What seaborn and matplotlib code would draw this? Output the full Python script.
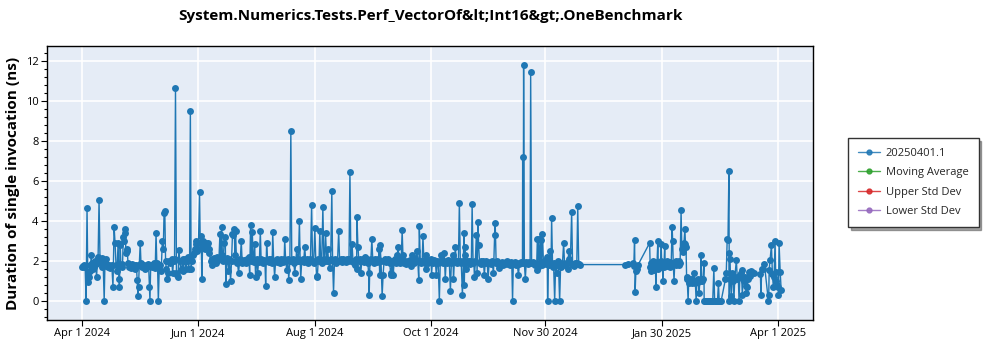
import matplotlib
matplotlib.use("Agg")
import matplotlib.pyplot as plt
from matplotlib.lines import Line2D
from matplotlib.ticker import MultipleLocator
import seaborn as sns
import pandas as pd

title = "System.Numerics.Tests.Perf_VectorOf&lt;Int16&gt;.OneBenchmark"
y_label = "Duration of single invocation (ns)"
series_names = ["20250401.1", "Moving Average", "Upper Std Dev", "Lower Std Dev"]
series_colors = ["#1f77b4", "#2ca02c", "#d62728", "#9467bd"]
base_date = "2024-04-01"
tick_dates = ["2024-04-01", "2024-06-01", "2024-08-01", "2024-10-01",
              "2024-11-30", "2025-01-30", "2025-04-01"]

# (day offset from base_date, duration ns)
seg_apr_may = [
    (0.0, 1.70), (0.4, 1.75), (0.8, 1.70), (1.2, 1.80), (1.6, 1.75), (2.1, 0.00), (2.6, 4.65),
    (3.0, 1.30), (3.3, 0.95), (3.6, 1.20), (4.0, 1.80), (4.4, 1.50), (4.8, 2.30), (5.2, 1.90),
    (5.6, 1.60), (6.0, 1.80), (6.4, 1.70), (6.8, 2.00), (7.2, 1.85), (7.6, 1.20), (8.0, 1.90),
    (8.4, 2.20), (8.9, 5.07), (9.4, 2.10), (9.8, 1.90), (10.2, 1.70), (10.6, 2.15), (11.0, 2.10),
    (11.6, 0.00), (12.0, 1.90), (12.4, 2.10), (12.8, 1.75), (13.2, 1.80), (13.6, 1.70), (14.0, 1.80),
    (14.4, 1.65), (14.8, 1.75), (15.2, 1.70), (15.6, 1.80), (16.2, 0.70), (16.8, 3.70), (17.3, 2.90),
    (17.8, 1.80), (18.3, 1.50), (18.9, 2.90), (19.3, 1.10), (19.6, 0.70), (20.0, 2.80), (20.4, 1.75),
    (20.8, 1.85), (21.2, 1.70), (21.6, 3.20), (21.9, 3.00), (22.3, 3.40), (22.6, 3.60), (23.0, 2.40),
    (23.4, 2.60), (23.7, 2.50), (24.1, 1.90), (24.5, 1.70), (25.0, 1.80), (25.5, 1.65), (26.0, 1.85),
    (26.5, 1.70), (27.0, 1.80), (27.5, 1.75), (28.0, 1.60), (28.5, 1.80), (28.9, 1.05), (29.3, 0.25),
    (29.6, 0.70), (30.0, 1.80), (30.5, 2.90), (30.9, 1.90), (31.4, 1.70), (31.9, 1.75), (32.4, 1.80),
    (32.9, 1.60), (33.4, 1.75), (33.9, 1.70), (34.4, 1.85), (34.9, 1.80), (35.3, 0.70), (35.6, 0.00),
    (36.0, 1.80), (36.5, 1.70), (37.0, 1.75), (37.5, 1.90), (38.0, 1.65), (38.4, 1.80), (38.8, 3.40),
    (39.2, 1.90), (39.6, 1.70), (40.0, 0.00), (40.5, 1.70), (41.0, 1.80), (41.5, 1.50), (42.1, 3.00),
    (42.6, 2.60), (43.0, 4.40), (43.4, 4.50), (43.8, 2.00), (44.2, 1.60), (44.6, 1.10), (45.0, 1.40),
    (45.5, 2.00), (46.0, 1.90), (46.5, 2.00), (47.0, 2.10), (47.5, 1.40), (48.0, 2.00), (48.5, 2.10),
    (49.0, 10.65), (49.5, 1.40), (50.0, 1.30), (50.4, 1.20),
]
seg_jun = [
    (50.8, 2.55), (51.3, 2.00), (51.8, 1.55), (52.2, 1.60), (52.7, 2.10), (53.1, 1.50), (53.6, 2.00),
    (54.0, 2.10), (54.5, 1.60), (55.0, 2.00), (55.4, 2.20), (55.9, 1.60), (56.4, 2.10), (56.8, 9.50),
    (57.2, 1.60), (57.6, 2.00), (58.0, 2.30), (58.5, 2.40), (59.0, 2.60), (59.5, 3.00), (60.0, 2.85),
    (60.5, 2.50), (61.0, 2.60), (61.6, 5.45), (62.0, 2.90), (62.5, 3.25), (62.8, 1.10), (63.2, 2.70),
    (63.6, 3.00), (64.0, 2.85), (64.5, 2.60), (65.0, 2.90), (65.4, 2.75), (65.9, 2.90), (66.4, 2.60),
    (66.8, 2.40), (67.4, 2.00), (67.9, 2.10), (68.4, 1.80), (68.9, 2.00), (69.4, 2.15), (69.9, 2.00),
    (70.4, 1.90), (70.9, 2.20), (71.3, 2.05), (71.8, 2.10), (72.3, 3.35), (72.7, 2.10), (73.2, 3.70),
    (73.6, 2.30), (74.0, 2.00), (74.5, 2.90), (75.1, 3.20), (75.4, 0.87), (75.8, 2.15), (76.3, 2.00),
    (76.8, 1.50), (77.3, 2.10), (77.9, 1.00), (78.4, 2.00), (78.9, 3.35), (79.3, 3.30), (79.8, 3.60),
    (80.2, 2.30), (80.5, 3.50), (81.0, 2.00), (81.5, 1.90), (82.1, 1.40), (82.6, 2.00), (83.0, 2.10),
    (83.5, 3.00), (84.0, 1.90), (84.5, 2.00),
]
seg_jul_oct = [
    (85.0, 2.05), (85.5, 2.00), (86.0, 1.90), (86.5, 2.10), (87.0, 2.00), (87.5, 2.20), (87.9, 1.30),
    (88.4, 3.80), (88.8, 2.00), (89.3, 3.45), (89.7, 2.10), (90.1, 1.95), (90.5, 2.85), (91.0, 1.20),
    (91.4, 2.00), (91.8, 2.10), (92.1, 1.40), (92.6, 2.00), (93.0, 1.95), (93.5, 3.50), (93.9, 2.10),
    (94.4, 2.00), (94.9, 1.90), (95.4, 2.05), (95.9, 2.00), (96.3, 0.75), (96.8, 2.90), (97.3, 2.00),
    (97.8, 2.10), (98.3, 1.95), (98.8, 2.00), (99.3, 2.10), (99.7, 1.90), (100.0, 3.45), (100.5, 2.00),
    (101.0, 1.20), (101.5, 2.00), (102.0, 2.10), (102.5, 1.95), (103.0, 2.05), (103.5, 2.00), (104.0, 1.90),
    (104.5, 2.10), (105.0, 2.00), (105.5, 1.95), (106.0, 2.10), (106.3, 3.10), (106.8, 2.00), (107.4, 1.55),
    (107.9, 2.10), (108.4, 1.07), (109.0, 2.00), (109.5, 8.50), (110.0, 2.00), (110.5, 2.10), (111.0, 1.90),
    (111.6, 1.40), (112.1, 2.00), (112.6, 2.60), (113.1, 2.00), (113.5, 2.10), (114.0, 4.00), (114.4, 2.00),
    (114.7, 1.10), (115.2, 2.00), (115.7, 2.10), (116.2, 1.95), (116.8, 2.70), (117.3, 2.00), (117.8, 2.10),
    (118.3, 1.90), (118.8, 2.05), (119.3, 2.00), (119.8, 2.10), (120.4, 4.80), (120.9, 2.00), (121.5, 1.90),
    (122.1, 3.65), (122.6, 2.00), (123.0, 1.25), (123.4, 1.20), (123.9, 2.10), (124.3, 2.00), (124.7, 3.50),
    (125.2, 2.00), (125.7, 1.90), (126.3, 4.70), (126.8, 2.10), (127.2, 2.00), (127.7, 3.40), (128.3, 2.00),
    (128.8, 2.60), (129.3, 2.00), (129.8, 1.65), (130.4, 2.10), (131.0, 5.50), (131.4, 2.00), (131.9, 0.42),
    (132.4, 2.00), (132.9, 2.10), (133.4, 1.90), (134.0, 2.00), (134.6, 3.50), (135.1, 2.00), (135.6, 2.10),
    (136.1, 1.95), (136.6, 2.00), (137.1, 2.10), (137.6, 2.00), (138.1, 2.05), (138.6, 1.95), (139.1, 2.10),
    (139.6, 2.00), (140.0, 2.10), (140.5, 6.45), (141.0, 2.00), (141.6, 2.85), (142.1, 2.00), (142.5, 1.90),
    (143.0, 1.80), (143.5, 2.10), (144.0, 1.60), (144.2, 4.20), (144.7, 2.70), (145.2, 2.00), (145.7, 2.10),
    (146.2, 1.40), (146.7, 2.00), (147.2, 2.10), (147.7, 1.95), (148.4, 2.20), (148.9, 2.00), (149.4, 2.10),
    (149.9, 1.90), (150.3, 1.40), (150.6, 0.30), (151.0, 2.00), (151.5, 2.10), (152.0, 3.10), (152.5, 2.00),
    (153.0, 1.90), (153.5, 2.10), (154.0, 2.00), (154.5, 1.95), (155.0, 2.10), (155.5, 2.00), (155.8, 2.60),
    (156.1, 1.30), (156.3, 2.80), (156.8, 2.00), (157.4, 0.25), (157.9, 1.30), (158.4, 2.00), (158.9, 2.10),
    (159.4, 1.95), (159.9, 2.00), (160.4, 2.10), (160.9, 2.00), (161.4, 1.90), (161.8, 1.40), (162.1, 1.30),
    (162.6, 2.00), (163.2, 1.30), (163.7, 2.00), (164.2, 2.10), (164.7, 1.90), (165.3, 2.30), (165.8, 2.70),
    (166.3, 2.00), (166.8, 1.90), (167.4, 2.10), (167.9, 3.55), (168.3, 2.30), (168.8, 1.90), (169.3, 2.00),
    (169.8, 1.85), (170.3, 1.95), (170.8, 2.00), (171.3, 1.90), (171.8, 2.05), (172.3, 1.95), (172.7, 1.75),
    (173.0, 2.30), (173.5, 2.00), (174.0, 1.90), (174.5, 2.10), (175.0, 2.00), (175.6, 2.50), (176.1, 2.00),
    (176.6, 1.05), (176.9, 3.75), (177.4, 2.00), (177.9, 1.90), (178.4, 2.00), (178.8, 3.25), (179.3, 2.00),
    (179.8, 1.90), (180.2, 1.60), (180.5, 2.30), (181.0, 2.00), (181.5, 1.90), (182.0, 2.00), (182.5, 1.95),
    (183.0, 2.10), (183.3, 1.30), (183.8, 2.00), (184.3, 1.90), (184.8, 2.05), (185.3, 2.00), (185.8, 1.30),
    (186.3, 2.00), (186.8, 1.90), (187.4, 0.00), (187.9, 2.00), (188.4, 2.30), (188.9, 2.00), (189.4, 1.90),
    (190.0, 2.40), (190.5, 1.10), (191.0, 2.00), (191.5, 1.90), (192.0, 2.05), (192.6, 2.00), (193.2, 0.50),
    (193.7, 1.90), (194.2, 2.00), (194.6, 2.30), (194.8, 1.10), (195.3, 1.95), (195.8, 2.70), (196.3, 2.00),
    (196.8, 1.90), (197.4, 2.00), (197.9, 4.90), (198.4, 2.00), (198.9, 1.90), (199.5, 0.28), (200.0, 2.00),
    (200.3, 3.40), (200.5, 0.80), (200.8, 2.70), (201.1, 2.30), (201.4, 1.60), (201.8, 2.00),
]
seg_oct_dec = [
    (202.3, 1.90), (202.8, 2.00), (203.3, 1.85), (203.8, 1.90), (204.2, 2.00), (204.6, 4.85), (205.1, 1.90),
    (205.5, 1.95), (205.8, 1.20), (206.3, 2.00), (206.8, 3.30), (207.2, 1.40), (207.7, 3.95), (208.0, 2.80),
    (208.5, 1.90), (209.0, 2.00), (209.5, 1.85), (210.0, 1.90), (210.5, 2.00), (211.0, 1.30), (211.5, 1.90),
    (212.0, 2.00), (212.5, 1.90), (213.0, 1.10), (213.5, 1.90), (214.0, 1.95), (214.5, 1.85), (215.0, 2.00),
    (215.8, 1.40), (216.4, 3.30), (216.7, 3.90), (217.2, 1.90), (217.7, 2.00), (218.2, 1.85), (218.9, 1.65),
    (219.4, 1.90), (219.9, 1.85), (220.4, 1.95), (220.9, 1.80), (221.4, 1.90), (221.9, 1.85), (222.4, 1.95),
    (222.9, 2.00), (223.4, 1.85), (223.9, 1.90), (224.4, 1.80), (224.9, 1.95), (225.4, 1.90), (225.8, 0.00),
    (226.2, 1.85), (226.7, 1.90), (227.2, 1.95), (227.7, 1.80), (228.2, 1.90), (228.9, 1.30), (229.4, 1.85),
    (229.9, 1.90), (230.4, 1.95), (231.0, 1.90), (231.1, 7.20), (231.4, 1.95), (231.6, 11.80), (232.0, 1.90),
    (232.5, 1.10), (233.0, 1.95), (233.5, 1.90), (234.0, 1.85), (234.5, 1.95), (235.0, 1.90), (235.3, 11.45),
    (235.8, 1.90), (236.3, 1.95), (236.8, 1.85), (237.3, 1.90), (237.8, 1.80), (238.4, 1.55), (238.8, 3.10),
    (239.2, 1.70), (239.6, 3.10), (240.1, 1.90), (240.6, 3.05), (241.0, 1.80), (241.5, 3.35), (242.0, 1.90),
    (242.5, 2.00), (243.0, 1.90), (243.5, 1.85), (244.0, 2.20), (244.2, 0.00), (244.6, 1.90), (245.0, 1.80),
    (245.5, 2.50), (246.0, 1.90), (246.3, 4.15), (246.8, 1.70), (247.3, 1.90), (247.9, 0.00), (248.4, 1.80),
    (248.9, 1.40), (249.4, 2.00), (249.9, 1.80), (250.5, 0.00), (251.0, 1.70), (251.5, 1.85), (252.0, 1.90),
    (252.6, 2.90), (253.1, 1.80), (253.6, 1.90), (254.1, 1.85), (254.7, 1.60), (255.3, 2.50), (255.6, 2.10),
    (256.1, 1.90), (256.8, 4.45), (257.3, 1.80), (258.0, 1.75), (258.5, 1.90), (259.0, 1.85), (259.5, 1.90),
    (260.0, 4.75), (260.5, 1.85), (261.0, 1.82),
]
seg_2025 = [
    (284.6, 1.82), (286.5, 1.85), (288.8, 1.90), (289.4, 1.75), (289.8, 3.07), (290.1, 0.47), (290.5, 1.50),
    (291.0, 1.60), (291.6, 1.80), (297.7, 2.90), (298.0, 1.70), (298.3, 1.90), (298.6, 1.50), (298.9, 1.80),
    (299.2, 1.60), (299.5, 2.00), (299.8, 1.55), (300.1, 1.90), (300.4, 1.70), (300.7, 1.85), (301.0, 0.70),
    (301.3, 1.80), (301.6, 1.95), (302.0, 3.00), (302.3, 1.60), (302.6, 1.80), (302.9, 1.90), (303.2, 1.70),
    (303.5, 2.00), (303.8, 2.85), (304.1, 1.75), (304.4, 1.85), (304.6, 1.00), (304.9, 1.90), (305.2, 1.70),
    (305.6, 2.75), (305.9, 1.80), (306.2, 1.90), (306.6, 1.75), (307.0, 2.00), (307.4, 1.85), (307.8, 1.90),
    (308.2, 1.70), (308.6, 1.95), (309.0, 1.80), (309.5, 3.70), (309.8, 3.00), (310.1, 1.85), (310.5, 1.00),
    (310.9, 1.90), (311.3, 1.80), (311.7, 2.00), (312.1, 1.85), (312.5, 1.95), (312.9, 1.80), (313.3, 2.00),
    (313.7, 1.90), (314.2, 4.55), (314.6, 2.60), (315.0, 2.75), (315.3, 2.45), (315.7, 2.90), (316.2, 3.60),
    (316.5, 2.85), (316.8, 2.70), (317.1, 1.20), (317.4, 1.10), (317.9, 0.00), (318.2, 1.00), (318.5, 0.90),
    (318.8, 1.10), (319.1, 1.00), (319.4, 0.95), (319.7, 1.10), (320.0, 0.90), (320.4, 1.05), (320.9, 1.40),
    (321.3, 1.00), (321.7, 0.90), (322.1, 0.00), (322.5, 1.00), (322.9, 1.10), (323.3, 0.95), (323.7, 0.40),
    (324.0, 1.00), (324.4, 1.05), (324.7, 2.30), (325.0, 1.10), (325.4, 1.00), (325.8, 1.10), (326.2, 1.90),
    (326.3, 0.00), (326.8, 0.00), (327.3, 0.00), (327.8, 0.00), (328.3, 0.00), (328.8, 0.00), (329.3, 0.00),
    (329.8, 0.00), (330.3, 0.00), (330.8, 0.00), (331.4, 1.65), (331.8, 0.00), (332.3, 0.00), (332.8, 0.00),
    (333.3, 0.00), (333.8, 0.90), (334.2, 0.00), (334.7, 0.00), (335.2, 0.00), (337.5, 1.10), (337.9, 1.40),
    (338.4, 3.10), (338.8, 3.05), (339.3, 6.50), (339.5, 0.00), (339.6, 2.40), (339.8, 2.10), (340.1, 1.10),
    (340.5, 0.25), (341.0, 1.40), (341.5, 1.00), (341.9, 0.00), (342.4, 1.20), (343.2, 2.05), (343.7, 1.10),
    (344.2, 1.20), (344.6, 0.00), (345.1, 1.30), (345.5, 1.40), (345.9, 1.55), (346.3, 0.30), (346.8, 1.10),
    (347.3, 1.00), (347.7, 1.20), (348.1, 0.75), (348.4, 0.40), (348.9, 0.70), (349.3, 1.10), (349.7, 1.45),
    (350.2, 1.25), (351.0, 1.50), (351.5, 1.45), (352.5, 1.40), (355.8, 1.35), (356.1, 0.30), (356.5, 1.60),
    (357.2, 1.60), (357.9, 1.85), (360.0, 0.00), (360.2, 0.30), (360.4, 1.55), (360.9, 2.05), (361.6, 2.80),
    (362.1, 1.35), (362.6, 0.70), (363.0, 1.20), (363.5, 3.00), (363.8, 1.45), (364.2, 1.00), (364.6, 0.80),
    (365.1, 0.70), (365.3, 0.30), (365.6, 2.90), (366.2, 1.45), (366.7, 0.55),
]

records = seg_apr_may + seg_jun + seg_jul_oct + seg_oct_dec + seg_2025
df = pd.DataFrame(records, columns=["day", "value"])
df["date"] = pd.Timestamp(base_date) + pd.to_timedelta(df["day"], unit="D")

sns.set_theme(style="whitegrid")
plt.rcParams["font.family"] = ["Open Sans", "DejaVu Sans"]

fig = plt.figure(figsize=(10, 3.5), dpi=100)
ax = fig.add_axes([0.047, 0.0857, 0.766, 0.783])
ax.set_facecolor("#E5ECF6")

sns.lineplot(data=df, x="date", y="value", ax=ax, color=series_colors[0],
             marker="o", markersize=5, markeredgewidth=0, linewidth=1.0,
             sort=False, estimator=None, legend=False)

ax.set_ylim(-0.95, 12.75)
ax.set_xlim(pd.Timestamp(base_date) - pd.Timedelta(days=18.4),
            pd.Timestamp(tick_dates[-1]) + pd.Timedelta(days=18.4))
ax.yaxis.set_major_locator(MultipleLocator(2))
ax.yaxis.set_minor_locator(MultipleLocator(0.4))
ticks = [pd.Timestamp(t) for t in tick_dates]
ax.set_xticks(ticks)
ax.set_xticklabels([f"{t.strftime('%b')} {t.day} {t.year}" for t in ticks])

ax.grid(True, which="major", color="white", linewidth=1.2)
ax.grid(False, which="minor")
for s in ax.spines.values():
    s.set_color("black")
    s.set_linewidth(1.0)
ax.tick_params(axis="both", which="major", direction="out", length=4, width=0.8,
               color="black", labelsize=8, labelcolor="black", pad=2,
               left=True, bottom=True)
ax.tick_params(axis="y", which="minor", direction="out", length=2.5, width=0.8,
               color="black", left=True)

ax.set_xlabel("")
ax.set_ylabel(y_label, fontsize=11, fontweight="bold", color="black", labelpad=4)
fig.suptitle(title, x=0.43, y=0.975, fontsize=11, fontweight="bold", color="black")

handles = [Line2D([0], [0], color=c, marker="o", markersize=3.5, linewidth=1.0, alpha=0.85)
           for c in series_colors]
leg = fig.legend(handles, series_names, loc="upper left", bbox_to_anchor=(0.848, 0.606),
                 borderaxespad=0.0, frameon=True, fancybox=False, shadow=True, fontsize=8,
                 handlelength=2.0, borderpad=0.9, labelspacing=0.75, handletextpad=0.5)
leg.get_frame().set_edgecolor("#333333")
leg.get_frame().set_linewidth(1.0)

fig.savefig("out.png", dpi=100)
